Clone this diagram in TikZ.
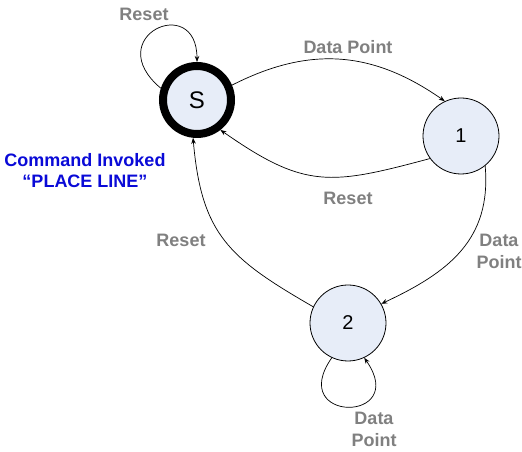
\documentclass[tikz,border=0pt]{standalone}
\usepackage{fontspec}
\setmainfont{Liberation Sans}
\usetikzlibrary{arrows.meta}
\definecolor{statefill}{RGB}{231,237,248}
\definecolor{lblgray}{RGB}{128,128,128}
\definecolor{cmdblue}{RGB}{10,10,215}
\begin{document}
\begin{tikzpicture}[x=1pt,y=1pt,
  state/.style={circle,draw,fill=statefill,line width=0.8pt,minimum size=76pt,inner sep=0pt,font=\fontsize{20}{24}\selectfont},
  startstate/.style={state,line width=8pt,minimum size=68pt,font=\fontsize{24}{28}\selectfont},
  lbl/.style={text=lblgray,font=\bfseries\fontsize{18}{22}\selectfont,align=center,inner sep=0pt},
  cmd/.style={text=cmdblue,font=\bfseries\fontsize{18}{21}\selectfont,align=center,inner sep=0pt},
  edge/.style={-{Stealth[length=6pt,width=4.5pt]},line width=0.7pt}]
\useasboundingbox (0,0) rectangle (522,452);
\node[startstate] (s) at (197,352) {S};
\node[state] (n1) at (461,316) {1};
\node[state] (n2) at (348,129) {2};
\draw[edge] (s.23) to[out=27,in=145,looseness=1.05] (n1.115);
\draw[edge] (n1.216) to[out=195,in=-35,looseness=1.25] (s.-52);
\draw[edge] (n1.-51) to[out=-85,in=25,looseness=1.1] (n2.30);
\draw[edge] (n2.155) to[out=150,in=-85,looseness=1.2] (s.-96);
\draw[edge] (s.162) .. controls +(140:80) and +(90:70) .. (s.90);
\draw[edge] (n2.-115) .. controls +(-125:80) and +(-55:80) .. (n2.-65);
\node[lbl] (rtop) at (144,438) {Reset};
\node[lbl] (dp1) at (348,405) {Data Point};
\node[lbl] (rmid) at (348,254) {Reset};
\node[lbl] (rleft) at (181,212) {Reset};
\node[lbl] (dp2) at (499,201) {Data\\Point};
\node[lbl] (dp3) at (374,23) {Data\\Point};
\node[cmd] (cmd) at (85,281) {Command Invoked\\“PLACE LINE”};
\end{tikzpicture}
\end{document}
